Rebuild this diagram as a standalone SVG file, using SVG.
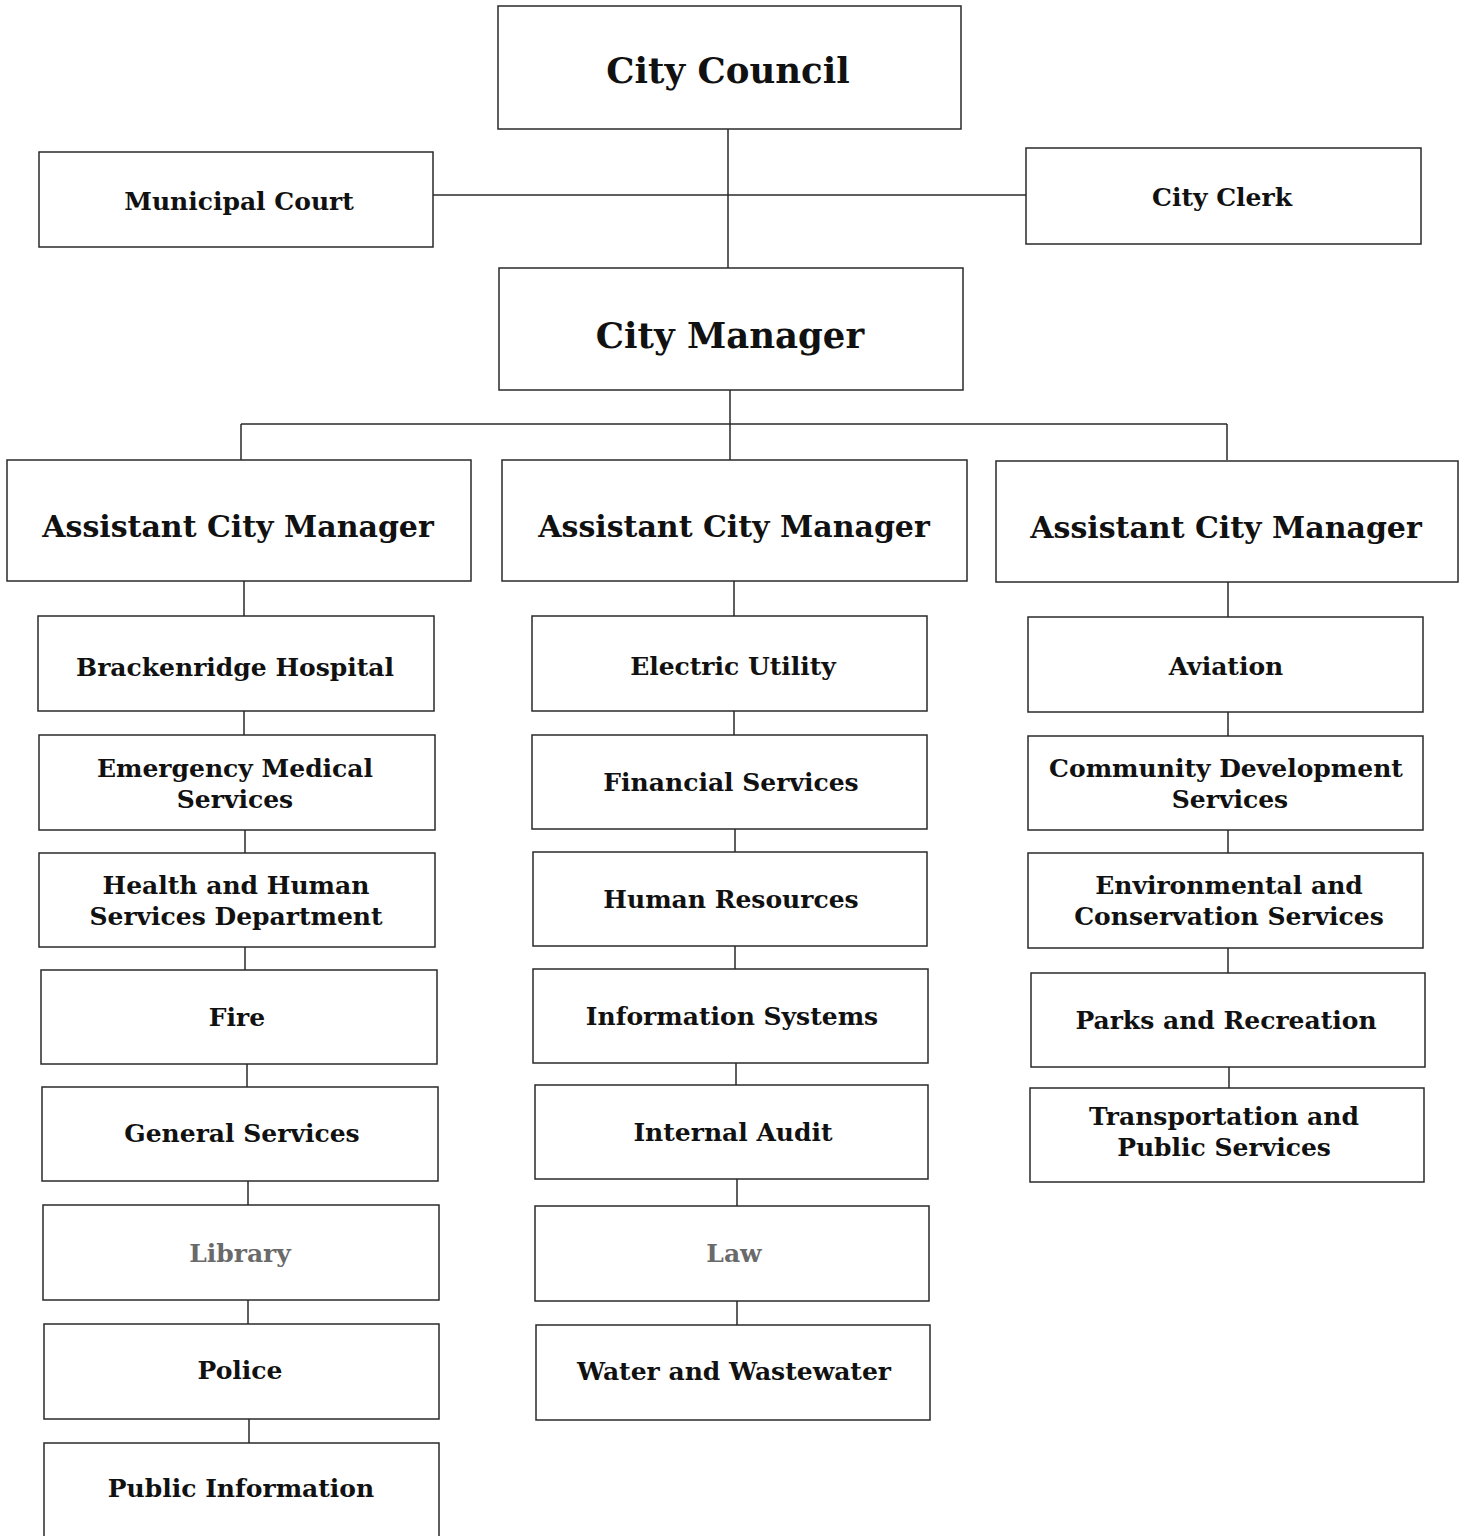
<svg xmlns="http://www.w3.org/2000/svg" width="1467" height="1536" viewBox="0 0 1467 1536">
  <style>
    .box { fill: #ffffff; stroke: #2a2a2a; stroke-width: 1.5; }
    .wire { fill: none; stroke: #2a2a2a; stroke-width: 1.5; }
    text { font-family: "DejaVu Serif", "Liberation Serif", serif; font-weight: bold; fill: #111; text-anchor: middle; }
    .t1 { font-size: 35.5px; }
    .t2 { font-size: 30px; }
    .t3 { font-size: 25px; }
    .faded { fill: #6a6a6a; }
  </style>
  <rect width="1467" height="1536" fill="#ffffff"/>

  <g id="connectors">
    <path class="wire" d="M728 129 V268 M433 195 H1026"/>
    <path class="wire" d="M730 390 V424 M241 424 H1227 M241 424 V460 M730 424 V460 M1227 424 V460"/>
    <!-- left column -->
    <path class="wire" d="M244 581 V616 M244 711 V735 M245 830 V853 M245 947 V970 M247 1064 V1087 M248 1181 V1205 M248 1300 V1324 M249 1419 V1443"/>
    <!-- middle column -->
    <path class="wire" d="M734 581 V616 M734 711 V735 M735 829 V852 M735 946 V969 M736 1063 V1085 M737 1179 V1206 M737 1301 V1325"/>
    <!-- right column -->
    <path class="wire" d="M1228 582 V617 M1228 712 V736 M1228 830 V853 M1228 948 V973 M1229 1067 V1088"/>
  </g>

  <g id="city-council"><rect class="box" x="498" y="6" width="463" height="123"/><text class="t1" x="728" y="83">City Council</text></g>
  <g id="municipal-court"><rect class="box" x="39" y="152" width="394" height="95"/><text class="t3" x="239" y="210">Municipal Court</text></g>
  <g id="city-clerk"><rect class="box" x="1026" y="148" width="395" height="96"/><text class="t3" x="1222" y="206">City Clerk</text></g>
  <g id="city-manager"><rect class="box" x="499" y="268" width="464" height="122"/><text class="t1" x="730" y="348">City Manager</text></g>

  <g id="acm-1"><rect class="box" x="7" y="460" width="464" height="121"/><text class="t2" x="238" y="537">Assistant City Manager</text></g>
  <g id="acm-2"><rect class="box" x="502" y="460" width="465" height="121"/><text class="t2" x="734" y="537">Assistant City Manager</text></g>
  <g id="acm-3"><rect class="box" x="996" y="461" width="462" height="121"/><text class="t2" x="1226" y="538">Assistant City Manager</text></g>

  <!-- left column departments -->
  <g id="brackenridge-hospital"><rect class="box" x="38" y="616" width="396" height="95"/><text class="t3" x="235" y="676">Brackenridge Hospital</text></g>
  <g id="emergency-medical-services"><rect class="box" x="39" y="735" width="396" height="95"/><text class="t3" x="235" y="777">Emergency Medical</text><text class="t3" x="235" y="808">Services</text></g>
  <g id="health-human-services"><rect class="box" x="39" y="853" width="396" height="94"/><text class="t3" x="236" y="894">Health and Human</text><text class="t3" x="236" y="925">Services Department</text></g>
  <g id="fire"><rect class="box" x="41" y="970" width="396" height="94"/><text class="t3" x="237" y="1026">Fire</text></g>
  <g id="general-services"><rect class="box" x="42" y="1087" width="396" height="94"/><text class="t3" x="242" y="1142">General Services</text></g>
  <g id="library"><rect class="box" x="43" y="1205" width="396" height="95"/><text class="t3 faded" x="240" y="1262">Library</text></g>
  <g id="police"><rect class="box" x="44" y="1324" width="395" height="95"/><text class="t3" x="240" y="1379">Police</text></g>
  <g id="public-information"><rect class="box" x="44" y="1443" width="395" height="100"/><text class="t3" x="241" y="1497">Public Information</text></g>

  <!-- middle column departments -->
  <g id="electric-utility"><rect class="box" x="532" y="616" width="395" height="95"/><text class="t3" x="733" y="675">Electric Utility</text></g>
  <g id="financial-services"><rect class="box" x="532" y="735" width="395" height="94"/><text class="t3" x="731" y="791">Financial Services</text></g>
  <g id="human-resources"><rect class="box" x="533" y="852" width="394" height="94"/><text class="t3" x="731" y="908">Human Resources</text></g>
  <g id="information-systems"><rect class="box" x="533" y="969" width="395" height="94"/><text class="t3" x="732" y="1025">Information Systems</text></g>
  <g id="internal-audit"><rect class="box" x="535" y="1085" width="393" height="94"/><text class="t3" x="733" y="1141">Internal Audit</text></g>
  <g id="law"><rect class="box" x="535" y="1206" width="394" height="95"/><text class="t3 faded" x="734" y="1262">Law</text></g>
  <g id="water-wastewater"><rect class="box" x="536" y="1325" width="394" height="95"/><text class="t3" x="734" y="1380">Water and Wastewater</text></g>

  <!-- right column departments -->
  <g id="aviation"><rect class="box" x="1028" y="617" width="395" height="95"/><text class="t3" x="1226" y="675">Aviation</text></g>
  <g id="community-development"><rect class="box" x="1028" y="736" width="395" height="94"/><text class="t3" x="1226" y="777">Community Development</text><text class="t3" x="1230" y="808">Services</text></g>
  <g id="environmental-conservation"><rect class="box" x="1028" y="853" width="395" height="95"/><text class="t3" x="1229" y="894">Environmental and</text><text class="t3" x="1229" y="925">Conservation Services</text></g>
  <g id="parks-recreation"><rect class="box" x="1031" y="973" width="394" height="94"/><text class="t3" x="1226" y="1029">Parks and Recreation</text></g>
  <g id="transportation-public-services"><rect class="box" x="1030" y="1088" width="394" height="94"/><text class="t3" x="1224" y="1125">Transportation and</text><text class="t3" x="1224" y="1156">Public Services</text></g>
</svg>
